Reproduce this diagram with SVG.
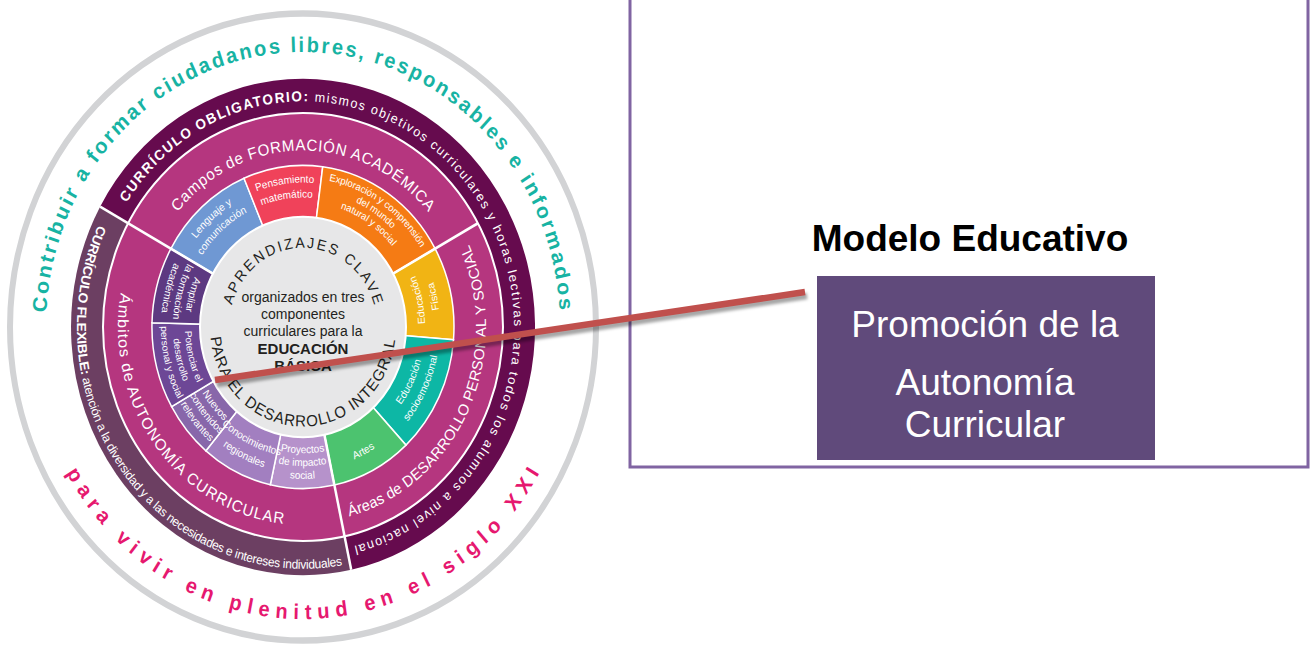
<svg xmlns="http://www.w3.org/2000/svg" width="1313" height="649" viewBox="0 0 1313 649">
<defs>
<style>
.sans{font-family:"Liberation Sans",Arial,sans-serif}
.seg{font-family:"Liberation Sans Narrow","Liberation Sans",Arial,sans-serif;font-size:10px;fill:#fff}
.wt{fill:#fff}
.dk{fill:#231F20}
.wedge{stroke:#fff;stroke-width:1.5}
.spoke{stroke:#fff;stroke-width:2.5}
</style>
<path id="w257" d="M257,0 A257,257 0 1 1 -257,0 A257,257 0 1 1 257,0"/>
<path id="w211" d="M211,0 A211,211 0 1 1 -211,0 A211,211 0 1 1 211,0"/>
<path id="w165" d="M165,0 A165,165 0 1 1 -165,0 A165,165 0 1 1 165,0"/>
<path id="w74" d="M74,0 A74,74 0 1 1 -74,0 A74,74 0 1 1 74,0"/>
<path id="w139" d="M139,0 A139,139 0 1 1 -139,0 A139,139 0 1 1 139,0"/>
<path id="w135" d="M135,0 A135,135 0 1 1 -135,0 A135,135 0 1 1 135,0"/>
<path id="w128" d="M128,0 A128,128 0 1 1 -128,0 A128,128 0 1 1 128,0"/>
<path id="w121" d="M121,0 A121,121 0 1 1 -121,0 A121,121 0 1 1 121,0"/>
<path id="w117" d="M117,0 A117,117 0 1 1 -117,0 A117,117 0 1 1 117,0"/>
<path id="c273" d="M273,0 A273,273 0 1 0 -273,0 A273,273 0 1 0 273,0"/>
<path id="c226" d="M226,0 A226,226 0 1 0 -226,0 A226,226 0 1 0 226,0"/>
<path id="c185" d="M185,0 A185,185 0 1 0 -185,0 A185,185 0 1 0 185,0"/>
<path id="c183" d="M183,0 A183,183 0 1 0 -183,0 A183,183 0 1 0 183,0"/>
<path id="c93" d="M93,0 A93,93 0 1 0 -93,0 A93,93 0 1 0 93,0"/>
<path id="c142" d="M142,0 A142,142 0 1 0 -142,0 A142,142 0 1 0 142,0"/>
<path id="c137" d="M137,0 A137,137 0 1 0 -137,0 A137,137 0 1 0 137,0"/>
<path id="c134" d="M134,0 A134,134 0 1 0 -134,0 A134,134 0 1 0 134,0"/>
<path id="c130" d="M130,0 A130,130 0 1 0 -130,0 A130,130 0 1 0 130,0"/>
<path id="c122" d="M122,0 A122,122 0 1 0 -122,0 A122,122 0 1 0 122,0"/>
<path id="c118" d="M118,0 A118,118 0 1 0 -118,0 A118,118 0 1 0 118,0"/>
<filter id="blur" x="-10%" y="-100%" width="120%" height="300%"><feGaussianBlur stdDeviation="1.6"/></filter>
</defs>

<rect x="0" y="0" width="1313" height="649" fill="#fff"/>

<g id="frame">
<path d="M630,-5 L630,467 L1308,467 L1308,-5" fill="none" stroke="#8064A2" stroke-width="3"/>
</g>

<g id="wheel" transform="translate(303,327) scale(1,1.07)">
<circle r="293" fill="none" stroke="#D2D3D5" stroke-width="6"/>
<g id="outer-ring">
<path d="M0,0 L-202.9,-112.5 A232,232 0 1 1 48.2,226.9 Z" fill="#660B4E"/>
<path d="M0,0 L48.2,226.9 A232,232 0 0 1 -202.9,-112.5 Z" fill="#6C3F62"/>
</g>
<circle r="200" fill="#B5367F" stroke="#fff" stroke-width="2"/>
<g id="inner-ring" class="wedge">
<path d="M0,0 L-132.1,-73.2 A151,151 0 0 1 -59.0,-139.0 Z" fill="#6F98D3"/>
<path d="M0,0 L-59.0,-139.0 A151,151 0 0 1 19.7,-149.7 Z" fill="#F0425A"/>
<path d="M0,0 L19.7,-149.7 A151,151 0 0 1 132.1,-73.2 Z" fill="#F57B14"/>
<path d="M0,0 L132.1,-73.2 A151,151 0 0 1 150.5,11.9 Z" fill="#F1B414"/>
<path d="M0,0 L150.5,11.9 A151,151 0 0 1 103.0,110.4 Z" fill="#0DB7A5"/>
<path d="M0,0 L103.0,110.4 A151,151 0 0 1 31.4,147.7 Z" fill="#4CC36F"/>
<path d="M0,0 L31.4,147.7 A151,151 0 0 1 -32.7,147.4 Z" fill="#B692CB"/>
<path d="M0,0 L-32.7,147.4 A151,151 0 0 1 -97.1,115.7 Z" fill="#A27FC0"/>
<path d="M0,0 L-97.1,115.7 A151,151 0 0 1 -131.4,74.4 Z" fill="#8867AA"/>
<path d="M0,0 L-131.4,74.4 A151,151 0 0 1 -151.0,-4.0 Z" fill="#6D4796"/>
<path d="M0,0 L-151.0,-4.0 A151,151 0 0 1 -132.1,-73.2 Z" fill="#5D3981"/>
</g>
<circle r="103" fill="#E7E7E8" stroke="#fff" stroke-width="2"/>
<g id="spokes" class="spoke">
<line x1="-90.1" y1="-49.9" x2="-202.9" y2="-112.5"/>
<line x1="90.1" y1="-49.9" x2="174.9" y2="-97.0"/>
<line x1="21.4" y1="100.7" x2="48.2" y2="226.9"/>
</g>

<g id="ring-texts" class="sans">
<g transform="rotate(89.75)"><text font-size="20" font-weight="bold" fill="#17B3A3" text-anchor="middle"><textPath href="#w257" startOffset="50%" textLength="778">Contribuir a formar ciudadanos libres, responsables e informados</textPath></text></g>
<g transform="rotate(-90)"><text font-size="20" font-weight="bold" fill="#E6186F" text-anchor="middle"><textPath href="#c273" startOffset="50%" textLength="572">para vivir en plenitud en el siglo XXI</textPath></text></g>
<g transform="rotate(144.65)"><text class="wt" text-anchor="middle"><textPath href="#w211" startOffset="50%" textLength="820"><tspan font-weight="bold" font-size="13.5">CURRÍCULO OBLIGATORIO:</tspan><tspan font-size="12.5"> mismos objetivos curriculares y horas lectivas para todos los alumnos a nivel nacional</tspan></textPath></text></g>
<g transform="rotate(-37.5)"><text class="wt" text-anchor="middle" font-family="Liberation Sans Narrow, Liberation Sans, sans-serif"><textPath href="#c226" startOffset="50%" textLength="493"><tspan font-weight="bold" font-size="13">CURRÍCULO FLEXIBLE:</tspan><tspan font-size="12"> atención a la diversidad y a las necesidades e intereses individuales</tspan></textPath></text></g>
<g transform="rotate(90)"><text class="wt" font-size="15" text-anchor="middle"><textPath href="#w165" startOffset="50%" textLength="285">Campos de FORMACIÓN ACADÉMICA</textPath></text></g>
<g transform="rotate(-154.75)"><text class="wt" font-size="14.5" text-anchor="middle"><textPath href="#c183" startOffset="50%" textLength="320">Áreas de DESARROLLO PERSONAL Y SOCIAL</textPath></text></g>
<g transform="rotate(-37)"><text class="wt" font-size="15" text-anchor="middle"><textPath href="#c185" startOffset="50%" textLength="303">Ámbitos de AUTONOMÍA CURRICULAR</textPath></text></g>
<g transform="rotate(90)"><text class="dk" font-size="14" text-anchor="middle"><textPath href="#w74" startOffset="50%" textLength="191">APRENDIZAJES CLAVE</textPath></text></g>
<g transform="rotate(-89.2)"><text class="dk" font-size="15" text-anchor="middle"><textPath href="#c93" startOffset="50%" textLength="270">PARA EL DESARROLLO INTEGRAL</textPath></text></g>
</g>

<g id="segment-texts" class="seg" text-anchor="middle">
<g transform="rotate(48)">
<text><textPath href="#w135" startOffset="50%">Lenguaje y</textPath></text>
<text><textPath href="#w121" startOffset="50%">comunicación</textPath></text>
</g>
<g transform="rotate(82.25)">
<text><textPath href="#w135" startOffset="50%">Pensamiento</textPath></text>
<text><textPath href="#w121" startOffset="50%">matemático</textPath></text>
</g>
<g transform="rotate(124.25)" font-size="9.5">
<text><textPath href="#w139" startOffset="50%">Exploración y comprensión</textPath></text>
<text><textPath href="#w128" startOffset="50%">del mundo</textPath></text>
<text><textPath href="#w117" startOffset="50%">natural y social</textPath></text>
</g>
<g transform="rotate(167.75)">
<text><textPath href="#c122" startOffset="50%">Educación</textPath></text>
<text><textPath href="#c137" startOffset="50%">Física</textPath></text>
</g>
<g transform="rotate(-154.25)">
<text><textPath href="#c122" startOffset="50%">Educación</textPath></text>
<text><textPath href="#c137" startOffset="50%">socioemocional</textPath></text>
</g>
<g transform="rotate(-117.5)">
<text><textPath href="#c134" startOffset="50%">Artes</textPath></text>
</g>
<g transform="rotate(-89.75)">
<text><textPath href="#c118" startOffset="50%">Proyectos</textPath></text>
<text><textPath href="#c130" startOffset="50%">de impacto</textPath></text>
<text><textPath href="#c142" startOffset="50%">social</textPath></text>
</g>
<g transform="rotate(-63.75)">
<text><textPath href="#c122" startOffset="50%">Conocimientos</textPath></text>
<text><textPath href="#c137" startOffset="50%">regionales</textPath></text>
</g>
<g transform="rotate(-39.75)">
<text><textPath href="#c118" startOffset="50%">Nuevos</textPath></text>
<text><textPath href="#c130" startOffset="50%">contenidos</textPath></text>
<text><textPath href="#c142" startOffset="50%">relevantes</textPath></text>
</g>
<g transform="rotate(-14)" font-size="9.5">
<text><textPath href="#c118" startOffset="50%">Potenciar el</textPath></text>
<text><textPath href="#c130" startOffset="50%">desarrollo</textPath></text>
<text><textPath href="#c142" startOffset="50%">personal y social</textPath></text>
</g>
<g transform="rotate(15.25)">
<text><textPath href="#c118" startOffset="50%">Ampliar</textPath></text>
<text><textPath href="#c130" startOffset="50%">la formación</textPath></text>
<text><textPath href="#c142" startOffset="50%">académica</textPath></text>
</g>
</g>
</g>

<g id="center-text" class="sans dk" text-anchor="middle">
<text x="303" y="302" font-size="14">organizados en tres</text>
<text x="303" y="319" font-size="14">componentes</text>
<text x="303" y="336" font-size="14">curriculares para la</text>
<text x="303" y="354" font-size="15" font-weight="bold">EDUCACIÓN</text>
<text x="303" y="371" font-size="15" font-weight="bold">BÁSICA</text>
</g>

<g id="title-node">
<text x="970" y="251" class="sans" font-size="37" font-weight="bold" fill="#000" text-anchor="middle">Modelo Educativo</text>
</g>

<g id="promo-node">
<rect x="817" y="276" width="338" height="184" fill="#604A7B"/>
<g class="sans wt" font-size="37" text-anchor="middle">
<text x="985" y="337">Promoción de la</text>
<text x="985" y="395">Autonomía</text>
<text x="985" y="437">Curricular</text>
</g>
</g>

<g id="connectors">
<line x1="217" y1="384" x2="807" y2="296" stroke="#000" stroke-opacity="0.35" stroke-width="6.5" filter="url(#blur)"/>
<line x1="215" y1="380" x2="805" y2="292" stroke="#C0504D" stroke-width="6.5"/>
</g>
</svg>
